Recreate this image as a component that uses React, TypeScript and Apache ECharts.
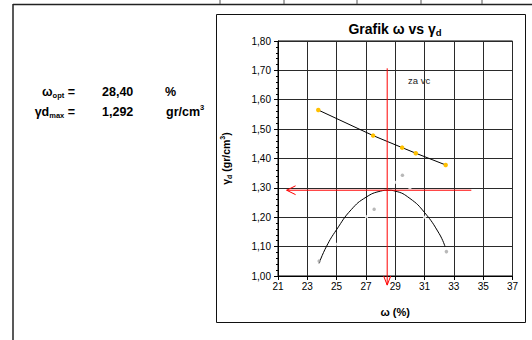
import React, { useEffect, useRef } from 'react';
import * as echarts from 'echarts';

// ZAV (zero air voids) points
const zavW = [23.75, 27.49, 29.47, 30.4, 32.44];
const zavGd = [1.565, 1.478, 1.437, 1.418, 1.378];
// test points
const testW = [23.81, 27.56, 29.49, 32.49];
const testGd = [1.051, 1.227, 1.343, 1.083];
// white (hidden) points
const hiddenW = [25, 27.04, 28.97, 30, 31];
const hiddenGd = [1.108, 1.202, 1.319, 1.3, 1.2];
// trend curve
const trendW = [23.8, 24.3, 25, 26, 27, 28, 28.5, 29, 30, 31, 32, 32.4];
const trendGd = [1.043, 1.1, 1.158, 1.226, 1.268, 1.289, 1.292, 1.289, 1.264, 1.216, 1.144, 1.1];
// red guide lines
const vLineW = [28.45, 28.45];
const vLineGd = [1.707, 0.969];
const vHeadW = [28.21, 28.45, 28.69];
const vHeadGd = [1.0, 0.969, 1.0];
const hLineW = [34.19, 21.59];
const hLineGd = [1.292, 1.292];
const hHeadW = [22.2, 21.59, 22.2];
const hHeadGd = [1.307, 1.292, 1.277];

const wOptText = '28,40';
const gdMaxText = '1,292';
const topTicks = [220, 284, 357, 421, 482];

const zip = (a: number[], b: number[]) => a.map((v, i) => [v, b[i]]);
const FONT = '"Liberation Sans", Arial, sans-serif';

export default function App() {
  const ref = useRef<HTMLDivElement>(null);
  useEffect(() => {
    if (!ref.current) return;
    const chart = echarts.init(ref.current, null, { renderer: 'svg' });
    const redLine = (data: number[][]) => ({
      type: 'line',
      data,
      showSymbol: false,
      symbol: 'none',
      clip: false,
      z: 5,
      lineStyle: { color: '#ff0000', width: 1 },
      silent: true,
    });
    chart.setOption({
      animation: false,
      backgroundColor: '#fff',
      textStyle: { fontFamily: FONT },
      grid: { left: 278, top: 41, right: 19.5, bottom: 64, show: true, borderColor: '#000', borderWidth: 1 },
      xAxis: {
        type: 'value',
        min: 21,
        max: 37,
        interval: 2,
        name: '{b|ω (%)}',
        nameLocation: 'middle',
        nameGap: 30,
        nameTextStyle: { rich: { b: { fontSize: 11, fontWeight: 'bold', color: '#000', fontFamily: FONT } } },
        axisLine: { lineStyle: { color: '#000', width: 1 } },
        axisTick: { show: true, length: 4, lineStyle: { color: '#000' } },
        axisLabel: { fontSize: 10, color: '#000', margin: 5, fontFamily: FONT },
        splitLine: { show: true, lineStyle: { color: '#2a2a2a', width: 1 } },
      },
      yAxis: {
        type: 'value',
        min: 1,
        max: 1.8,
        interval: 0.1,
        name: '{g|γ}{s|d}{g| (gr/cm}{p|3}{g|)}',
        nameLocation: 'middle',
        nameGap: 45,
        nameRotate: 90,
        nameTextStyle: {
          rich: {
            g: { fontSize: 10.5, fontWeight: 'bold', color: '#000', fontFamily: FONT, lineHeight: 14 },
            s: { fontSize: 7, fontWeight: 'bold', color: '#000', fontFamily: FONT, verticalAlign: 'bottom', lineHeight: 12 },
            p: { fontSize: 7, fontWeight: 'bold', color: '#000', fontFamily: FONT, verticalAlign: 'top', lineHeight: 14 },
          },
        },
        axisLine: { show: true, lineStyle: { color: '#000', width: 1 } },
        axisTick: { show: true, length: 4, lineStyle: { color: '#000' } },
        minorTick: { show: true, splitNumber: 5, length: 2, lineStyle: { color: '#000' } },
        axisLabel: {
          fontSize: 10,
          color: '#000',
          margin: 7,
          fontFamily: FONT,
          formatter: (v: number) => v.toFixed(2).replace('.', ','),
        },
        splitLine: { show: true, lineStyle: { color: '#2a2a2a', width: 1 } },
      },
      series: [
        {
          type: 'line',
          data: zip(trendW, trendGd),
          smooth: true,
          showSymbol: false,
          symbol: 'none',
          lineStyle: { color: '#000', width: 1 },
          z: 3,
        },
        {
          type: 'scatter',
          data: zip(hiddenW, hiddenGd),
          symbol: 'rect',
          symbolSize: 3,
          itemStyle: { color: '#fff' },
          z: 3,
        },
        {
          type: 'scatter',
          data: zip(testW, testGd),
          symbol: 'circle',
          symbolSize: 3.5,
          itemStyle: { color: '#a6a6a6' },
          z: 4,
        },
        {
          type: 'line',
          data: zip(zavW, zavGd),
          symbol: 'circle',
          symbolSize: 4.5,
          showSymbol: true,
          lineStyle: { color: '#000', width: 1 },
          itemStyle: { color: '#ffc000', borderWidth: 0 },
          z: 4,
        },
        redLine(zip(vLineW, vLineGd)),
        redLine(zip(vHeadW, vHeadGd)),
        redLine(zip(hLineW, hLineGd)),
        redLine(zip(hHeadW, hHeadGd)),
      ],
      graphic: [
        { type: 'line', shape: { x1: 13, y1: 4.5, x2: 532, y2: 4.5 }, style: { stroke: '#222', lineWidth: 1.5 } },
        { type: 'line', shape: { x1: 13, y1: 4, x2: 13, y2: 340 }, style: { stroke: '#222', lineWidth: 1.5 } },
        ...topTicks.map((x) => ({
          type: 'line',
          shape: { x1: x, y1: 0, x2: x, y2: 4 },
          style: { stroke: '#555', lineWidth: 1 },
        })),
        {
          type: 'rect',
          shape: { x: 216.5, y: 14.5, width: 309, height: 308 },
          style: { fill: 'none', stroke: '#111', lineWidth: 1 },
          z: -1,
        },
        {
          type: 'text',
          x: 395,
          y: 29,
          style: {
            text: '{t|Grafik ω vs γ}{s|d}',
            align: 'center',
            verticalAlign: 'middle',
            rich: {
              t: { fontSize: 14, fontWeight: 'bold', fill: '#000', fontFamily: FONT, lineHeight: 17 },
              s: { fontSize: 9.5, fontWeight: 'bold', fill: '#000', fontFamily: FONT, verticalAlign: 'bottom', lineHeight: 14 },
            },
          },
        },
        {
          type: 'text',
          x: 408,
          y: 80,
          style: { text: 'za vc', fontSize: 9.5, fill: '#222', fontFamily: FONT, verticalAlign: 'middle' },
        },
        {
          type: 'text',
          x: 75,
          y: 92,
          style: {
            text: '{b|ω}{s|opt}{b| =}',
            align: 'right',
            verticalAlign: 'middle',
            rich: {
              b: { fontSize: 12.5, fontWeight: 'bold', fill: '#000', fontFamily: FONT, lineHeight: 15 },
              s: { fontSize: 7.5, fontWeight: 'bold', fill: '#000', fontFamily: FONT, verticalAlign: 'bottom', lineHeight: 13 },
            },
          },
        },
        {
          type: 'text',
          x: 75,
          y: 112,
          style: {
            text: '{b|γd}{s|max}{b| =}',
            align: 'right',
            verticalAlign: 'middle',
            rich: {
              b: { fontSize: 12.5, fontWeight: 'bold', fill: '#000', fontFamily: FONT, lineHeight: 15 },
              s: { fontSize: 7.5, fontWeight: 'bold', fill: '#000', fontFamily: FONT, verticalAlign: 'bottom', lineHeight: 13 },
            },
          },
        },
        {
          type: 'text',
          x: 102,
          y: 92,
          style: { text: wOptText, fontSize: 12.5, fontWeight: 'bold', fill: '#000', fontFamily: FONT, verticalAlign: 'middle' },
        },
        {
          type: 'text',
          x: 102,
          y: 112,
          style: { text: gdMaxText, fontSize: 12.5, fontWeight: 'bold', fill: '#000', fontFamily: FONT, verticalAlign: 'middle' },
        },
        {
          type: 'text',
          x: 165,
          y: 92,
          style: { text: '%', fontSize: 12.5, fontWeight: 'bold', fill: '#000', fontFamily: FONT, verticalAlign: 'middle' },
        },
        {
          type: 'text',
          x: 166,
          y: 112,
          style: {
            text: '{b|gr/cm}{p|3}',
            verticalAlign: 'middle',
            rich: {
              b: { fontSize: 12.5, fontWeight: 'bold', fill: '#000', fontFamily: FONT, lineHeight: 15 },
              p: { fontSize: 7.5, fontWeight: 'bold', fill: '#000', fontFamily: FONT, verticalAlign: 'top', lineHeight: 17 },
            },
          },
        },
      ],
    });
    return () => chart.dispose();
  }, []);
  return (
    <div
      ref={ref}
      style={{ position: 'absolute', left: 0, top: 0, width: 532, height: 340, background: '#fff' }}
    />
  );
}
